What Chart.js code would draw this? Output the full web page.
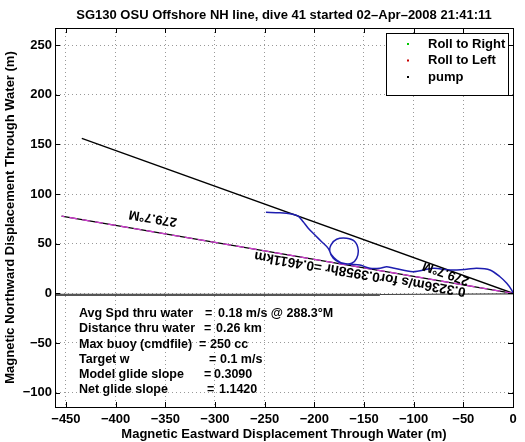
<!DOCTYPE html>
<html>
<head>
<meta charset="utf-8">
<script src="https://cdn.jsdelivr.net/npm/chart.js@4.4.1/dist/chart.umd.min.js"></script>
<style>
  html, body { margin: 0; padding: 0; background: #fff; }
  canvas { display: block; }
</style>
</head>
<body>
<canvas id="diveChart" width="525" height="442"></canvas>
<script>
// glider track through water (m, magnetic east / north)
const trackEast = [-248.7, -234.6, -222.9, -216.2, -211.2, -206.1, -199.4, -192.6, -186.0, -182.6,
  -177.5, -170.9, -162.4, -157.4, -155.8, -159.1, -167.5, -177.5, -183.3, -184.3,
  -180.9, -174.2, -164.1, -154.1, -144.0, -133.9, -127.2, -120.8, -100.7, -80.3,
  -63.4, -46.6, -36.6, -23.2, -13.1, -6.3, -1.3, 0];
const trackNorth = [81.6, 81.2, 79.9, 77.8, 72.1, 65.5, 58.7, 52.0, 45.3, 38.6,
  33.5, 30.2, 30.2, 35.2, 43.6, 52.0, 55.4, 54.4, 48.6, 41.9,
  35.2, 30.8, 29.2, 28.5, 25.2, 25.2, 26.8, 25.5, 21.8, 25.2,
  23.5, 24.2, 25.2, 23.5, 16.7, 10.1, 3.3, 0];

// 279.7 deg M heading line, 0.4611 km
const headingEast = [0, -454.4];
const headingNorth = [0, 77.7];
// second heading line
const avgEast = [0, -434];
const avgNorth = [0, 156];
// lines along the surface
const baseEast = [-461, -134];
const baseNorth = [-1.5, -1.5];
const baseEndEast = [-134, 0];
const baseEndNorth = [-1.2, -0.5];

// legend-only series (no points visible in the picture)
const rollRightEast = [], rollRightNorth = [];
const rollLeftEast = [], rollLeftNorth = [];
const pumpEast = [], pumpNorth = [];

const xTicks = [-450, -400, -350, -300, -250, -200, -150, -100, -50, 0];
const yTicks = [-100, -50, 0, 50, 100, 150, 200, 250];

const titleText = 'SG130 OSU Offshore NH line, dive 41 started 02\u2013Apr\u20132008 21:41:11';
const xTitle = 'Magnetic Eastward Displacement Through Water (m)';
const yTitle = 'Magnetic Northward Displacement Through Water (m)';

const summaryLabels = ['Avg Spd thru water', 'Distance thru water', 'Max buoy (cmdfile)',
  'Target w', 'Model glide slope', 'Net glide slope'];
const summaryValues = ['0.18 m/s @ 288.3\u00b0M', '0.26 km', '250 cc', '0.1 m/s', '0.3090', '1.1420'];

const headingLabel = '279.7\u00b0M';
const legLabel = '0.3236m/s for0.3958hr =0.4611km';

const FAMILY = '"Liberation Sans", Arial, Helvetica, sans-serif';
const FONT = 'bold 13px ' + FAMILY;

const pts = (xs, ys) => xs.map((x, i) => ({ x: x, y: ys[i] }));
const fmt = v => (v < 0 ? '\u2212' + Math.abs(v) : '' + v);

const matlabBits = {
  id: 'matlabBits',
  afterDatasetsDraw(chart) {
    const { ctx, scales: { x, y } } = chart;
    const ang = (ex, ny) => Math.atan2(y.getPixelForValue(0) - y.getPixelForValue(ny),
                                        x.getPixelForValue(0) - x.getPixelForValue(ex));
    const a1 = ang(headingEast[1], headingNorth[1]) + Math.PI;
    const a2 = ang(avgEast[1], avgNorth[1]) + Math.PI;
    const put = (txt, ex, ny, a, size) => {
      ctx.save();
      ctx.translate(x.getPixelForValue(ex), y.getPixelForValue(ny));
      ctx.rotate(a);
      ctx.font = 'bold ' + size + 'px ' + FAMILY;
      ctx.fillStyle = '#000';
      ctx.textAlign = 'center';
      ctx.textBaseline = 'middle';
      ctx.fillText(txt, 0, 0);
      ctx.restore();
    };
    put(headingLabel, -362.5, 75.8, a1, 13);
    put(legLabel, -154, 19.9, a1, 13.6);
    put(headingLabel, -67.5, 20.4, a2, 13);
  },
  afterDraw(chart) {
    const { ctx, chartArea: ca, scales: { x, y } } = chart;
    ctx.save();
    // box
    ctx.strokeStyle = '#000';
    ctx.lineWidth = 1;
    ctx.strokeRect(ca.left + 0.5, ca.top + 0.5, ca.right - ca.left, ca.bottom - ca.top);
    // inward ticks
    ctx.beginPath();
    xTicks.forEach(v => {
      const px = Math.round(x.getPixelForValue(v)) + 0.5;
      ctx.moveTo(px, ca.bottom); ctx.lineTo(px, ca.bottom - 5);
      ctx.moveTo(px, ca.top); ctx.lineTo(px, ca.top + 5);
    });
    yTicks.forEach(v => {
      const py = Math.round(y.getPixelForValue(v)) + 0.5;
      ctx.moveTo(ca.left, py); ctx.lineTo(ca.left + 5, py);
      ctx.moveTo(ca.right, py); ctx.lineTo(ca.right - 5, py);
    });
    ctx.stroke();

    // title
    ctx.font = FONT;
    ctx.fillStyle = '#000';
    ctx.textAlign = 'center';
    ctx.textBaseline = 'middle';
    ctx.fillText(titleText, (ca.left + ca.right) / 2, 15);

    // summary text
    ctx.font = 'bold 12.5px ' + FAMILY;
    ctx.textAlign = 'left';
    const eqX = [205, 204, 199, 209, 204, 207];
    const valX = [218, 216, 210, 220, 214, 219];
    summaryLabels.forEach((lab, i) => {
      const ty = 313.5 + i * 15.3;
      ctx.fillText(lab, 79, ty);
      ctx.fillText('=', eqX[i], ty);
      ctx.fillText(summaryValues[i], valX[i], ty);
    });

    // legend
    ctx.font = FONT;
    const leg = chart.data.datasets.filter(d => d.inLegend);
    const lx = ca.right - 127, ly = ca.top + 5, lw = 122, lh = 62;
    ctx.fillStyle = '#fff';
    ctx.fillRect(lx, ly, lw, lh);
    ctx.strokeStyle = '#000';
    ctx.strokeRect(lx + 0.5, ly + 0.5, lw, lh);
    leg.forEach((d, i) => {
      const ey = ly + 11 + i * 16.5;
      ctx.fillStyle = d.backgroundColor;
      ctx.fillRect(lx + 21, ey - 1, 2, 2);
      ctx.fillStyle = '#000';
      ctx.fillText(d.label, lx + 42, ey);
    });
    ctx.restore();
  }
};

// datasets listed first are drawn on top
new Chart(document.getElementById('diveChart'), {
  type: 'scatter',
  data: {
    datasets: [
      { label: 'track', data: pts(trackEast, trackNorth), showLine: true, borderColor: '#1e1eb0', borderWidth: 1.5, pointRadius: 0, tension: 0.3 },
      { label: 'heading2', data: pts(headingEast, headingNorth), showLine: true, borderColor: '#d23cd2', borderDash: [8, 5], borderWidth: 1.3, pointRadius: 0 },
      { label: 'heading', data: pts(headingEast, headingNorth), showLine: true, borderColor: '#000', borderWidth: 1.3, pointRadius: 0 },
      { label: 'avg', data: pts(avgEast, avgNorth), showLine: true, borderColor: '#000', borderWidth: 1.3, pointRadius: 0 },
      { label: 'base', data: pts(baseEast, baseNorth), showLine: true, borderColor: '#555', borderWidth: 2.2, pointRadius: 0 },
      { label: 'baseEnd', data: pts(baseEndEast, baseEndNorth), showLine: true, borderColor: '#444', borderWidth: 1.2, pointRadius: 0 },
      { label: 'Roll to Right', inLegend: true, data: pts(rollRightEast, rollRightNorth), backgroundColor: '#00c800', pointRadius: 1 },
      { label: 'Roll to Left', inLegend: true, data: pts(rollLeftEast, rollLeftNorth), backgroundColor: '#c80000', pointRadius: 1 },
      { label: 'pump', inLegend: true, data: pts(pumpEast, pumpNorth), backgroundColor: '#000', pointRadius: 1 }
    ]
  },
  options: {
    responsive: false,
    animation: false,
    devicePixelRatio: 1,
    layout: { padding: { top: 28, right: 12, left: 0, bottom: 0 } },
    plugins: { legend: { display: false }, title: { display: false }, tooltip: { enabled: false } },
    scales: {
      x: {
        type: 'linear', min: -461, max: 0,
        afterBuildTicks: s => { s.ticks = xTicks.map(v => ({ value: v })); },
        afterFit: s => { s.height = 35; },
        ticks: { font: { family: FAMILY, size: 13, weight: 'bold' }, color: '#000', callback: fmt, padding: 5, maxRotation: 0, autoSkip: false },
        grid: { color: '#999', drawTicks: false, lineWidth: 1 },
        border: { display: true, color: '#000', width: 1, dash: [1, 3] },
        title: { display: true, text: xTitle, color: '#000', font: { family: FAMILY, size: 13, weight: 'bold' }, padding: 0 }
      },
      y: {
        type: 'linear', min: -114.5, max: 267.2,
        afterBuildTicks: s => { s.ticks = yTicks.map(v => ({ value: v })); },
        afterFit: s => { s.width = 55; },
        ticks: { font: { family: FAMILY, size: 13, weight: 'bold' }, color: '#000', callback: fmt, padding: 3, autoSkip: false },
        grid: { color: '#999', drawTicks: false, lineWidth: 1 },
        border: { display: true, color: '#000', width: 1, dash: [1, 3] },
        title: { display: true, text: yTitle, color: '#000', font: { family: FAMILY, size: 13, weight: 'bold' }, padding: 3 }
      }
    }
  },
  plugins: [matlabBits]
});
</script>
</body>
</html>
